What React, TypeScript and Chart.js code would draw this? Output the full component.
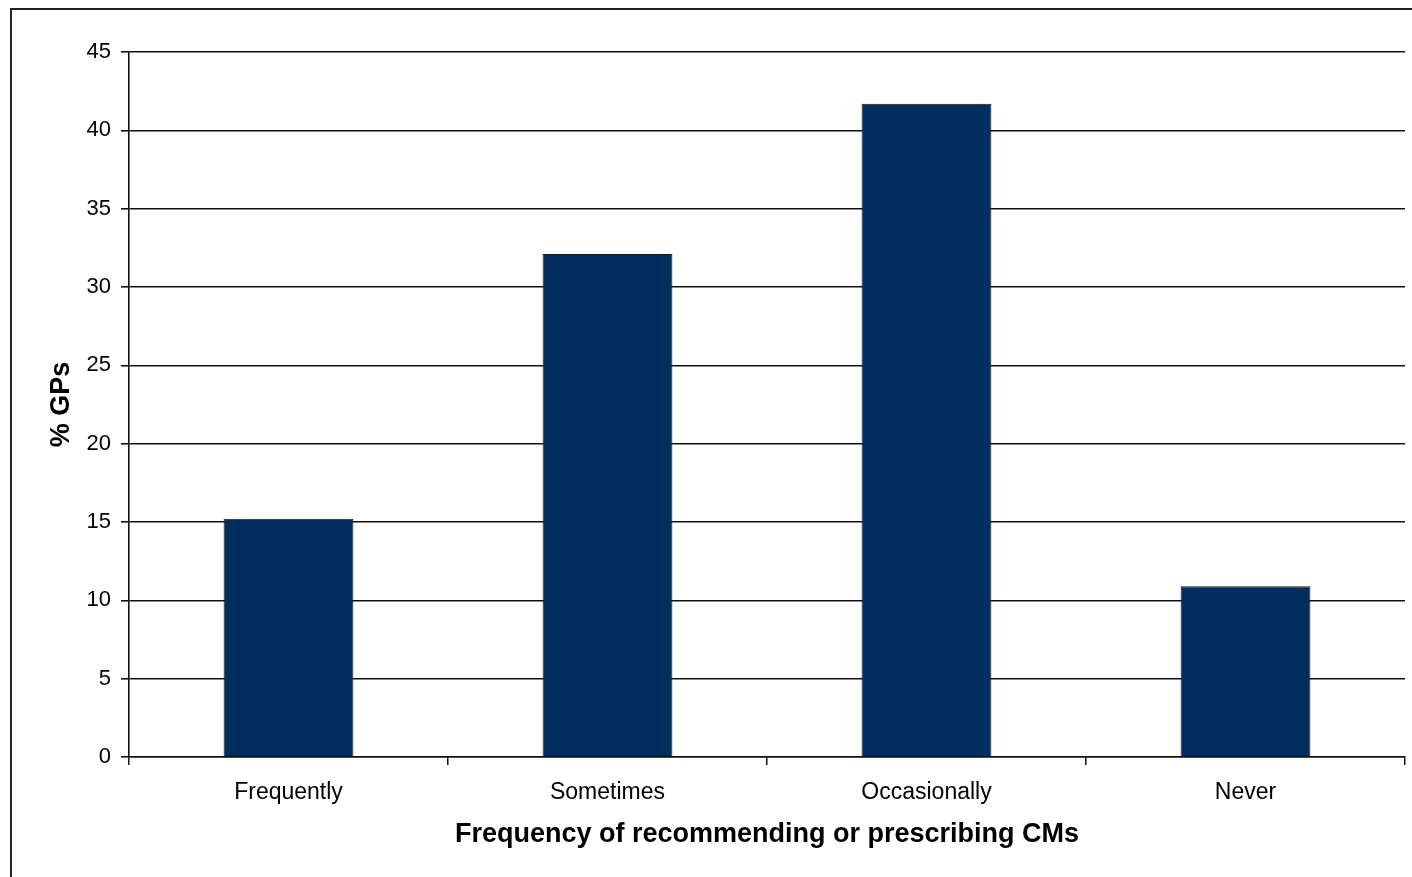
import React, { useEffect, useRef } from "react";
import { Chart, registerables } from "chart.js";

Chart.register(...registerables);

const categories = ["Frequently", "Sometimes", "Occasionally", "Never"];
const percentGPs = [15.2, 32.1, 41.7, 10.9];
const yTickValues = [0, 5, 10, 15, 20, 25, 30, 35, 40, 45];
const xTitle = "Frequency of recommending or prescribing CMs";
const yTitle = "% GPs";

export default function App() {
  const canvasRef = useRef<HTMLCanvasElement | null>(null);

  useEffect(() => {
    const canvas = canvasRef.current;
    if (!canvas) return;
    const chart = new Chart(canvas, {
      type: "bar",
      data: {
        labels: categories,
        datasets: [
          {
            data: percentGPs,
            backgroundColor: "#002f5f",
            borderColor: "#1a1a1a",
            borderWidth: 1,
            barPercentage: 0.407,
            categoryPercentage: 1,
          },
        ],
      },
      options: {
        animation: false,
        responsive: false,
        devicePixelRatio: 1,
        layout: { padding: { top: 52, right: 7, bottom: 0, left: 0 } },
        plugins: {
          legend: { display: false },
          tooltip: { enabled: false },
        },
        scales: {
          x: {
            offset: true,
            grid: {
              display: true,
              offset: true,
              drawOnChartArea: false,
              drawTicks: true,
              tickLength: 8,
              color: "#111",
              lineWidth: 1.5,
            },
            border: { display: true, color: "#111", width: 1.5 },
            ticks: {
              color: "#000",
              padding: 14,
              font: { family: "'Liberation Sans', Arial, sans-serif", size: 23 },
            },
            title: {
              display: true,
              text: xTitle,
              color: "#000",
              padding: { top: 0, bottom: 26 },
              font: { family: "'Liberation Sans', Arial, sans-serif", size: 27, weight: "bold" },
            },
            afterFit: (scale: any) => {
              scale.height = 120;
            },
          },
          y: {
            min: 0,
            max: 45,
            afterBuildTicks: (scale: any) => {
              scale.ticks = yTickValues.map((v) => ({ value: v }));
            },
            grid: {
              display: true,
              drawTicks: true,
              tickLength: 8,
              color: "#111",
              lineWidth: 1.6,
            },
            border: { display: true, color: "#111", width: 1.6 },
            ticks: {
              color: "#000",
              padding: 10,
              font: { family: "'Liberation Sans', Arial, sans-serif", size: 22 },
            },
            title: {
              display: true,
              text: yTitle,
              color: "#000",
              padding: { top: 45, bottom: 0 },
              font: { family: "'Liberation Sans', Arial, sans-serif", size: 27, weight: "bold" },
            },
            afterFit: (scale: any) => {
              scale.width = 129;
            },
          },
        },
      },
    });
    return () => chart.destroy();
  }, []);

  return (
    <div
      style={{
        position: "fixed",
        left: 0,
        top: 0,
        width: 1412,
        height: 877,
        overflow: "hidden",
        background: "#fff",
      }}
    >
      <div
        style={{
          position: "absolute",
          left: 10,
          top: 8,
          width: 1500,
          height: 1000,
          border: "2px solid #222",
        }}
      />
      <canvas
        ref={canvasRef}
        width={1412}
        height={877}
        style={{ position: "absolute", left: 0, top: 0 }}
      />
    </div>
  );
}
